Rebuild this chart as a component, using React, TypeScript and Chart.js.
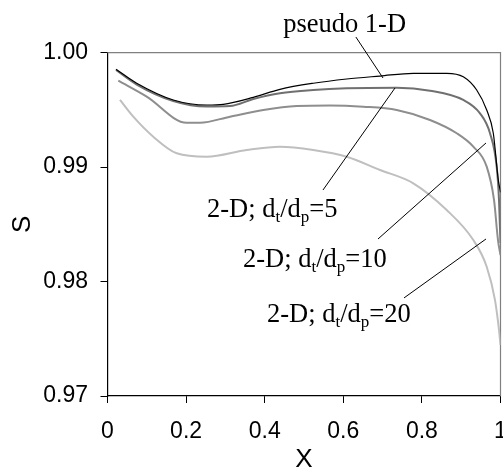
import React, { useEffect, useRef } from "react";
import { Chart, registerables } from "chart.js";

Chart.register(...registerables);

// ---- data ----
const xPseudo = [0.0216, 0.0743, 0.1674, 0.2524, 0.2947, 0.371, 0.4389, 0.5237, 0.6087, 0.6934, 0.7781, 0.8631, 0.9053, 0.9394, 0.9649, 0.9817, 0.9944, 1.0];
const sPseudo = [0.99855, 0.99733, 0.99587, 0.99543, 0.99549, 0.9961, 0.9968, 0.99733, 0.9977, 0.99796, 0.9982, 0.9982, 0.9979, 0.99674, 0.99499, 0.99296, 0.98888, 0.9878];

const x5 = [0.0216, 0.0743, 0.1674, 0.2524, 0.3117, 0.371, 0.4389, 0.5237, 0.6087, 0.7359, 0.8206, 0.9053, 0.9478, 0.9733, 0.9903, 0.9962, 1.0];
const s5 = [0.99849, 0.99722, 0.99578, 0.9953, 0.99534, 0.99595, 0.99645, 0.99674, 0.99689, 0.99694, 0.99668, 0.99587, 0.9947, 0.99296, 0.99004, 0.98713, 0.98337];

const x10 = [0.0275, 0.0997, 0.2015, 0.2354, 0.3117, 0.3964, 0.4814, 0.5662, 0.6509, 0.7359, 0.8206, 0.8886, 0.9308, 0.9649, 0.9835, 0.9936, 1.0];
const s10 = [0.99755, 0.99616, 0.99388, 0.99388, 0.99441, 0.99499, 0.99534, 0.99539, 0.99528, 0.99499, 0.99412, 0.99296, 0.99179, 0.99004, 0.98713, 0.98362, 0.98232];

const x20 = [0.0318, 0.0656, 0.1165, 0.1761, 0.2524, 0.3542, 0.4389, 0.5237, 0.6087, 0.6934, 0.7781, 0.8631, 0.9308, 0.9649, 0.986, 0.9962, 1.0];
const s20 = [0.99587, 0.99441, 0.99266, 0.99121, 0.99091, 0.9915, 0.99179, 0.9915, 0.99091, 0.98975, 0.98859, 0.98625, 0.98363, 0.9813, 0.97838, 0.97577, 0.97446];

const xTicks = [0, 0.2, 0.4, 0.6, 0.8, 1];
const yTicks = [0.97, 0.98, 0.99, 1.0];

// annotation labels: text parts, anchor (left, baseline) in data units, leader line in data units
const labelParts = [
  [{ t: "pseudo 1-D" }],
  [{ t: "2-D; d" }, { t: "t", sub: true }, { t: "/d" }, { t: "p", sub: true }, { t: "=5" }],
  [{ t: "2-D; d" }, { t: "t", sub: true }, { t: "/d" }, { t: "p", sub: true }, { t: "=10" }],
  [{ t: "2-D; d" }, { t: "t", sub: true }, { t: "/d" }, { t: "p", sub: true }, { t: "=20" }],
];
const labelX = [0.447, 0.2532, 0.3448, 0.4059];
const labelS = [1.0018, 0.98564, 0.98127, 0.97647];
const leaderFromX = [0.632, 0.5483, 0.6883, 0.7545];
const leaderFromS = [1.00137, 0.988, 0.98372, 0.97857];
const leaderToX = [0.701, 0.7316, 0.9631, 0.9631];
const leaderToS = [0.99779, 0.99692, 0.99211, 0.98372];

const seriesNames = ["pseudo 1-D", "2-D; dt/dp=5", "2-D; dt/dp=10", "2-D; dt/dp=20"];
const seriesX = [xPseudo, x5, x10, x20];
const seriesS = [sPseudo, s5, s10, s20];
const seriesColors = ["#000000", "#707070", "#8e8e8e", "#bfbfbf"];
const seriesWidths = [1.2, 2, 2, 2];

const frameAndLabels = {
  id: "frameAndLabels",
  beforeDatasetsDraw(chart: any) {
    const { ctx, chartArea } = chart;
    ctx.save();
    ctx.strokeStyle = "#808080";
    ctx.lineWidth = 1.2;
    ctx.beginPath();
    ctx.moveTo(chartArea.left, chartArea.top);
    ctx.lineTo(chartArea.right, chartArea.top);
    ctx.lineTo(chartArea.right, chartArea.bottom);
    ctx.stroke();
    ctx.restore();
  },
  afterDatasetsDraw(chart: any) {
    const { ctx } = chart;
    const xs = chart.scales.x;
    const ys = chart.scales.y;
    ctx.save();
    ctx.strokeStyle = "#000";
    ctx.lineWidth = 1;
    for (let i = 0; i < labelParts.length; i++) {
      ctx.beginPath();
      ctx.moveTo(xs.getPixelForValue(leaderFromX[i]), ys.getPixelForValue(leaderFromS[i]));
      ctx.lineTo(xs.getPixelForValue(leaderToX[i]), ys.getPixelForValue(leaderToS[i]));
      ctx.stroke();
    }
    ctx.fillStyle = "#000";
    ctx.textBaseline = "alphabetic";
    ctx.textAlign = "left";
    const size = 26.5;
    const subSize = 17;
    for (let i = 0; i < labelParts.length; i++) {
      let x = xs.getPixelForValue(labelX[i]);
      const y = ys.getPixelForValue(labelS[i]);
      for (const p of labelParts[i] as any[]) {
        if (p.sub) {
          ctx.font = `${subSize}px "Liberation Serif", "Times New Roman", serif`;
          ctx.fillText(p.t, x, y + 5);
        } else {
          ctx.font = `${size}px "Liberation Serif", "Times New Roman", serif`;
          ctx.fillText(p.t, x, y);
        }
        x += ctx.measureText(p.t).width;
      }
    }
    ctx.restore();
  },
};

export default function App() {
  const ref = useRef<HTMLCanvasElement | null>(null);
  useEffect(() => {
    if (!ref.current) return;
    const tickFont = { family: '"Liberation Sans", Arial, sans-serif', size: 23 };
    const chart = new Chart(ref.current, {
      type: "line",
      data: {
        datasets: seriesNames.map((name, i) => ({
          label: name,
          data: seriesX[i].map((x, j) => ({ x, y: seriesS[i][j] })),
          borderColor: seriesColors[i],
          borderWidth: seriesWidths[i],
          pointRadius: 0,
          fill: false,
          cubicInterpolationMode: "monotone" as const,
        })),
      },
      options: {
        animation: false,
        responsive: false,
        events: [],
        layout: { padding: { top: 52.7, right: 2.5, bottom: 0, left: 0 } },
        plugins: { legend: { display: false }, tooltip: { enabled: false } },
        scales: {
          x: {
            type: "linear",
            min: 0,
            max: 1,
            afterBuildTicks: (s: any) => {
              s.ticks = xTicks.map((v) => ({ value: v }));
            },
            afterFit: (s: any) => {
              s.height = 74;
              s.paddingLeft = 0;
              s.paddingRight = 0;
            },
            ticks: {
              color: "#000",
              font: tickFont,
              padding: 15,
              maxRotation: 0,
              callback: (v: any) => String(Number(Number(v).toFixed(1))),
            },
            grid: { drawOnChartArea: false, drawTicks: true, tickLength: 7, tickColor: "#000", tickWidth: 1 },
            border: { display: true, color: "#000", width: 1.2 },
            title: {
              display: true,
              text: "X",
              color: "#000",
              font: { family: '"Liberation Sans", Arial, sans-serif', size: 26, lineHeight: 0.75 },
              padding: { top: 0, bottom: 0 },
            },
          },
          y: {
            type: "linear",
            min: 0.97,
            max: 1.0,
            afterBuildTicks: (s: any) => {
              s.ticks = yTicks.map((v) => ({ value: v }));
            },
            afterFit: (s: any) => {
              s.width = 107.5;
              s.paddingTop = 0;
              s.paddingBottom = 0;
            },
            ticks: {
              color: "#000",
              font: tickFont,
              padding: 12.5,
              callback: (v: any) => Number(v).toFixed(2),
            },
            grid: { drawOnChartArea: false, drawTicks: true, tickLength: 7, tickColor: "#000", tickWidth: 1 },
            border: { display: true, color: "#000", width: 1.2 },
            title: {
              display: true,
              text: "S",
              color: "#000",
              font: { family: '"Liberation Sans", Arial, sans-serif', size: 26 },
              padding: { top: 7, bottom: 0 },
            },
          },
        },
      },
      plugins: [frameAndLabels],
    });
    return () => chart.destroy();
  }, []);
  return (
    <div style={{ position: "fixed", left: 0, top: 0, width: 503, height: 470, background: "#fff" }}>
      <canvas ref={ref} width={503} height={470} />
    </div>
  );
}
